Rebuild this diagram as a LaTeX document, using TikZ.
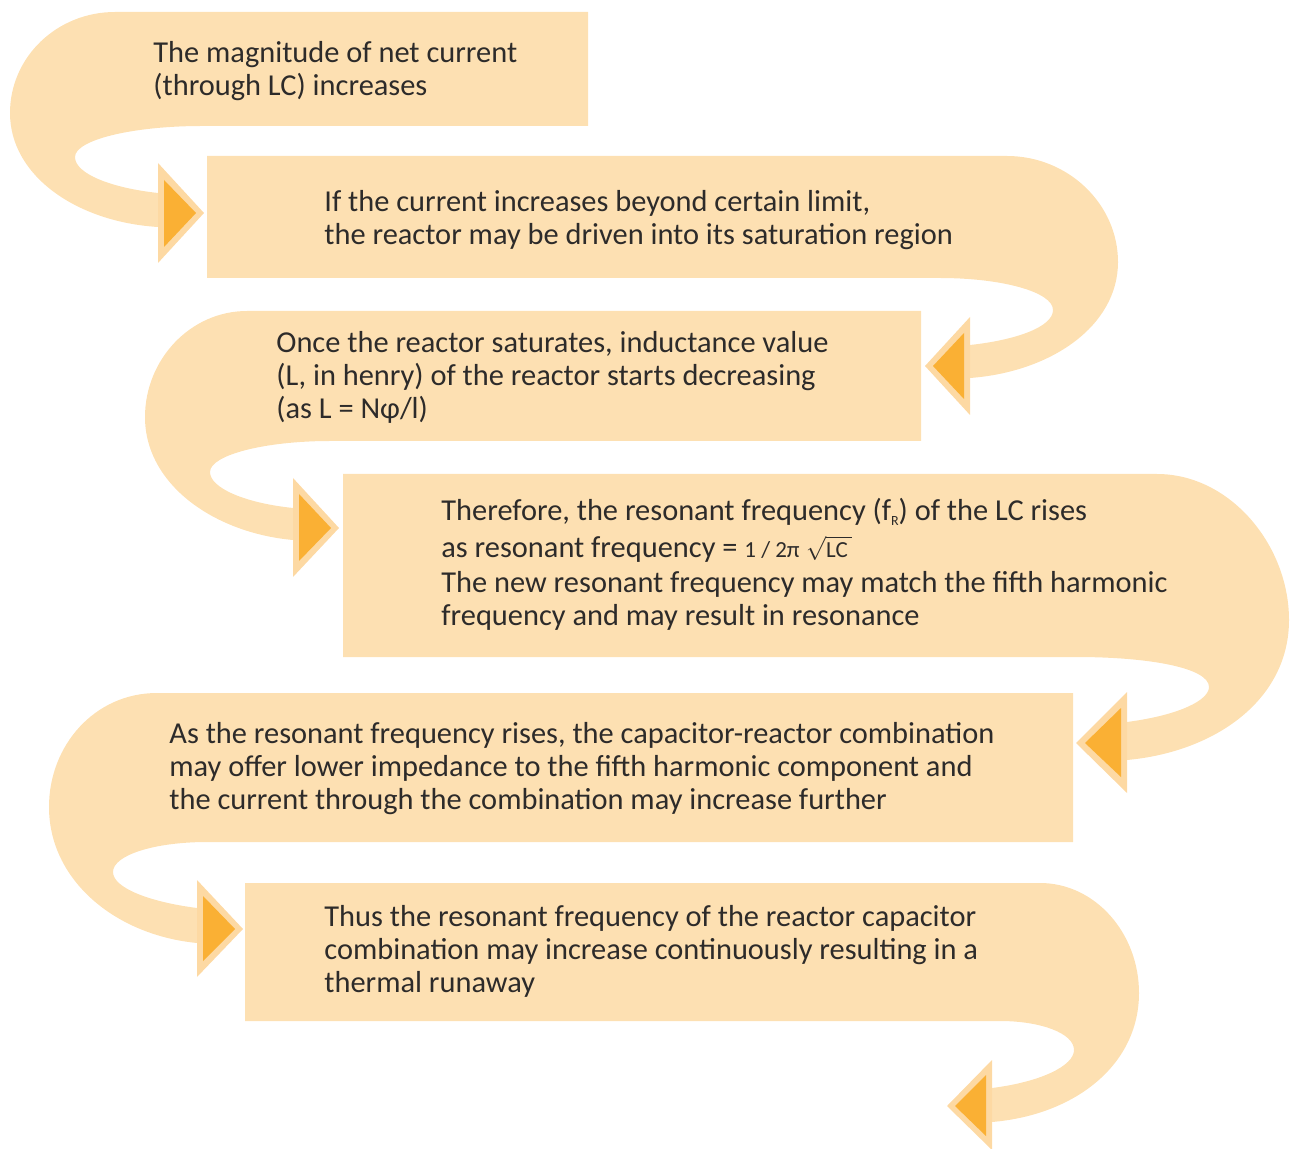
\documentclass[tikz,border=0pt]{standalone}
\usepackage{amsmath}
\usepackage{fontspec}
\setmainfont{Carlito}
\usepackage{xcolor}
\definecolor{peach}{HTML}{FDE0B2}
\definecolor{peachedge}{HTML}{FDD9A3}
\definecolor{amber}{HTML}{FAB034}
\definecolor{inkgrey}{HTML}{2D2B2A}
\usepackage{tikz}
\tikzset{
  band/.style={fill=peach},
  tipouter/.style={fill=peachedge},
  tipinner/.style={fill=amber},
  stage/.style={anchor=base west, align=left, inner sep=0pt, text=inkgrey, font=\fontsize{15.2}{16.5}\selectfont},
}

\begin{document}
\begin{tikzpicture}[x=0.5pt, y=-0.5pt]
  \useasboundingbox (0,0) rectangle (1290,1149);
  % bands
  \path[band] (588,12) -- (115,12) .. controls (57,12) and (10,57) .. (10,113) .. controls (10,176) and (77,222) .. (158,227) -- (158,193) .. controls (112,188) and (75,174) .. (75,157) .. controls (75,140) and (132,126) .. (202,126) -- (588,126) -- cycle;
  \path[band] (207,156) -- (1007,156) .. controls (1068,156) and (1118,204) .. (1118,262) .. controls (1118,326) and (1051,372) .. (970,378) -- (970,345) .. controls (1016,340) and (1053,327) .. (1053,310) .. controls (1053,292) and (1002,278) .. (940,278) -- (207,278) -- cycle;
  \path[band] (921,311) -- (247,311) .. controls (190,311) and (145,360) .. (145,417) .. controls (145,485) and (215,533) .. (293,540) -- (293,508) .. controls (245,503) and (210,488) .. (210,472) .. controls (210,455) and (265,441) .. (330,441) -- (921,441) -- cycle;
  \path[band] (343,474) -- (1157,474) .. controls (1230,474) and (1289,545) .. (1289,620) .. controls (1289,700) and (1215,752) .. (1127,760) -- (1127,722) .. controls (1180,715) and (1209,700) .. (1209,687) .. controls (1209,668) and (1150,657) .. (1076,657) -- (343,657) -- cycle;
  \path[band] (1073,693) -- (157,693) .. controls (95,693) and (49,745) .. (49,807) .. controls (49,880) and (115,935) .. (197,943) -- (197,908) .. controls (150,902) and (113,888) .. (113,872) .. controls (113,855) and (155,842) .. (207,842) -- (1073,842) -- cycle;
  \path[band] (245,883) -- (1040,883) .. controls (1095,883) and (1139,933) .. (1139,993) .. controls (1139,1065) and (1075,1115) .. (992,1122) -- (992,1088) .. controls (1040,1082) and (1074,1066) .. (1074,1050) .. controls (1074,1033) and (1040,1021) .. (1000,1021) -- (245,1021) -- cycle;
  % arrow tips
  \path[tipouter] (158,163) -- (158,263) -- (204,213) -- cycle;
  \path[tipinner] (164,180) -- (164,247) -- (196,213) -- cycle;
  \path[tipouter] (970,317) -- (970,415) -- (925,366) -- cycle;
  \path[tipinner] (964,333) -- (964,399) -- (933,366) -- cycle;
  \path[tipouter] (293,478) -- (293,577) -- (339,528) -- cycle;
  \path[tipinner] (299,494) -- (299,561) -- (331,528) -- cycle;
  \path[tipouter] (1127,692) -- (1127,793) -- (1076,743) -- cycle;
  \path[tipinner] (1121,708) -- (1121,777) -- (1085,743) -- cycle;
  \path[tipouter] (197,880) -- (197,977) -- (243,929) -- cycle;
  \path[tipinner] (203,896) -- (203,961) -- (235,929) -- cycle;
  \path[tipouter] (992,1060) -- (992,1150) -- (947,1106) -- cycle;
  \path[tipinner] (986,1075) -- (986,1136) -- (955,1106) -- cycle;
  % texts (anchored at the last baseline)
  \node[stage] (magnitude) at (153,96) {The magnitude of net current\\(through LC) increases};
  \node[stage] (saturation) at (324,245) {If the current increases beyond certain limit,\\the reactor may be driven into its saturation region};
  \node[stage] (inductance) at (276,419) {Once the reactor saturates, inductance value\\(L, in henry) of the reactor starts decreasing\\(as L = Nφ/l)};
  \node[stage] (resonance) at (441,625) {Therefore, the resonant frequency (f\raisebox{-2.5pt}{\fontsize{7}{7}\selectfont R}) of the LC rises\\[2pt]as resonant frequency = {\fontsize{11.5}{12}\selectfont 1 / 2π\;$\sqrt{\text{LC\,}}$}\\[1pt]The new resonant frequency may match the fifth harmonic\\frequency and may result in resonance};
  \node[stage] (impedance) at (169,809) {As the resonant frequency rises, the capacitor-reactor combination\\may offer lower impedance to the fifth harmonic component and\\the current through the combination may increase further};
  \node[stage] (runaway) at (324,992) {Thus the resonant frequency of the reactor capacitor\\combination may increase continuously resulting in a\\thermal runaway};
\end{tikzpicture}
\end{document}
